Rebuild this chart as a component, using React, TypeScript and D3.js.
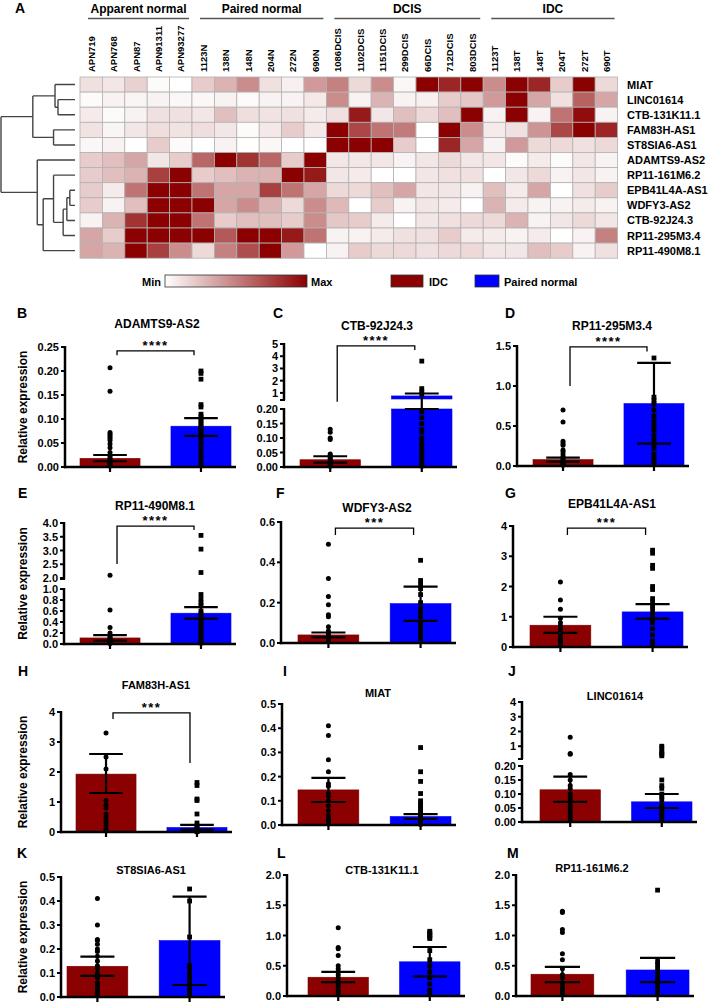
import React from 'react';
import * as d3 from 'd3';

const FONT = "'Liberation Sans', Arial, Helvetica, sans-serif";
const IDC_COLOR = '#8b0000';
const NORMAL_COLOR = '#0000ff';

// ---------------- Heatmap data ----------------
const sampleColumns = ['APN719','APN768','APN87','APN91311','APN93277','1123N','138N','148N','204N','272N','690N','1086DCIS','1102DCIS','1151DCIS','299DCIS','66DCIS','712DCIS','803DCIS','1123T','138T','148T','204T','272T','690T'];
const sampleGroups = [
  { name: 'Apparent normal', first: 0, last: 4 },
  { name: 'Paired normal', first: 5, last: 10 },
  { name: 'DCIS', first: 11, last: 17 },
  { name: 'IDC', first: 18, last: 23 },
];
const geneRows = ['MIAT','LINC01614','CTB-131K11.1','FAM83H-AS1','ST8SIA6-AS1','ADAMTS9-AS2','RP11-161M6.2','EPB41L4A-AS1','WDFY3-AS2','CTB-92J24.3','RP11-295M3.4','RP11-490M8.1'];

const heatMIAT = [0.12,0.1,0.18,0.02,0.0, 0.2,0.3,0.45,0.12,0.06,0.4, 0.5,0.15,0.45,0.03,1.0,0.85,1.0, 0.45,1.0,0.85,0.2,1.0,0.15];
const heatLINC01614 = [0.02,0.05,0.04,0.05,0.03, 0.03,0.05,0.02,0.05,0.05,0.09, 0.45,0.05,0.3,0.05,0.06,0.2,0.22, 0.4,1.0,0.35,0.12,0.62,0.35];
const heatCTB131K11 = [0.08,0.02,0.05,0.12,0.12, 0.1,0.25,0.13,0.11,0.12,0.08, 0.12,0.9,0.1,0.25,0.15,0.25,1.0, 0.05,1.0,0.05,0.55,0.95,0.05];
const heatFAM83H = [0.11,0.04,0.1,0.13,0.11, 0.13,0.1,0.02,0.09,0.2,0.09, 1.0,0.72,0.55,0.52,0.0,1.0,0.45, 0.08,0.12,0.42,0.72,1.0,0.85];
const heatST8SIA6 = [0.03,0.05,0.0,0.2,0.02, 0.0,0.05,0.0,0.03,0.0,0.0, 1.0,1.0,1.0,0.2,0.0,0.85,0.35, 0.05,0.4,0.15,0.15,0.12,0.15];
const heatADAMTS9 = [0.2,0.25,0.35,0.1,0.2, 0.6,1.0,0.8,0.6,0.2,1.0, 0.1,0.1,0.1,0.05,0.1,0.15,0.1, 0.1,0.02,0.08,0.02,0.1,0.05];
const heatRP11_161M6 = [0.2,0.25,0.3,0.75,1.0, 0.2,0.25,0.3,0.3,1.0,0.9, 0.1,0.08,0.0,0.0,0.1,0.12,0.12, 0.0,0.1,0.15,0.05,0.1,0.05];
const heatEPB41L4A = [0.2,0.08,0.55,1.0,1.0, 0.55,0.35,0.35,0.75,0.55,0.35, 0.15,0.15,0.25,0.35,0.1,0.1,0.05, 0.25,0.08,0.35,0.0,0.12,0.2];
const heatWDFY3 = [0.2,0.05,0.25,1.0,1.0, 1.0,0.35,0.45,0.3,0.15,0.45, 0.28,0.0,0.2,0.05,0.1,0.08,0.0, 0.3,0.08,0.05,0.05,0.08,0.05];
const heatCTB92J24 = [0.05,0.3,0.8,1.0,1.0, 0.55,0.2,0.25,0.25,0.2,0.45, 0.22,0.2,0.08,0.0,0.1,0.12,0.15, 0.15,0.3,0.05,0.1,0.15,0.1];
const heatRP11_295M3 = [0.35,0.2,1.0,1.0,1.0, 1.0,0.65,1.0,1.0,0.9,0.55, 0.05,0.05,0.08,0.12,0.12,0.2,0.08, 0.08,0.05,0.08,0.0,0.05,0.5];
const heatRP11_490M8 = [0.35,0.3,1.0,0.75,0.45, 0.15,0.5,0.7,1.0,0.4,0.0, 0.05,0.2,0.15,0.15,0.12,0.15,0.15, 0.1,0.1,0.25,0.2,0.05,0.12];
const heatMatrix = [heatMIAT, heatLINC01614, heatCTB131K11, heatFAM83H, heatST8SIA6, heatADAMTS9, heatRP11_161M6, heatEPB41L4A, heatWDFY3, heatCTB92J24, heatRP11_295M3, heatRP11_490M8];

// dendrogram (merge heights 0..1)
const dendroTree: any = { h: 1.0, children: [
  { h: 0.57, children: [
    { h: 0.27, children: [ { leaf: 'MIAT' }, { h: 0.23, children: [ { leaf: 'LINC01614' }, { leaf: 'CTB-131K11.1' } ] } ] },
    { h: 0.29, children: [ { leaf: 'FAM83H-AS1' }, { leaf: 'ST8SIA6-AS1' } ] },
  ] },
  { h: 0.51, children: [
    { leaf: 'ADAMTS9-AS2' },
    { h: 0.43, children: [
      { h: 0.29, children: [
        { leaf: 'RP11-161M6.2' },
        { h: 0.16, children: [
          { h: 0.11, children: [ { h: 0.07, children: [ { leaf: 'EPB41L4A-AS1' }, { leaf: 'WDFY3-AS2' } ] }, { leaf: 'CTB-92J24.3' } ] },
          { leaf: 'RP11-295M3.4' },
        ] },
      ] },
      { leaf: 'RP11-490M8.1' },
    ] },
  ] },
] };

// ---------------- Bar panel data ----------------
const barGroups = ['IDC', 'Paired normal'];

const B_idc = [0.207,0.158,0.072,0.068,0.064,0.06,0.055,0.048,0.04,0.03,0.022,0.018,0.014,0.01,0.008,0.006,0.004,0.002];
const B_normal = [0.2,0.195,0.183,0.13,0.125,0.11,0.105,0.1,0.095,0.09,0.085,0.08,0.075,0.07,0.065,0.06,0.05,0.04,0.03,0.02,0.01,0.004];
const B_stats = [[0.018,0.012,0.025],[0.085,0.065,0.102]];

const C_idc = [0.13,0.12,0.1,0.095,0.045,0.04,0.035,0.03,0.025,0.02,0.015,0.01,0.006,0.003];
const C_normal = [3.6,1.35,1.1,0.9,0.19,0.17,0.15,0.13,0.12,0.1,0.09,0.08,0.07,0.06,0.05,0.04,0.03,0.02,0.01,0.004];
const C_stats = [[0.025,0.015,0.037],[0.75,0.2,0.95]];

const D_idc = [0.7,0.55,0.31,0.28,0.26,0.2,0.18,0.15,0.12,0.1,0.08,0.06,0.05,0.04,0.03,0.02,0.01];
const D_normal = [1.35,0.86,0.82,0.78,0.7,0.62,0.55,0.5,0.45,0.38,0.32,0.28,0.22,0.15,0.1,0.05,0.02];
const D_stats = [[0.08,0.055,0.105],[0.78,0.28,1.29]];

const E_idc = [2.1,0.62,0.3,0.2,0.15,0.12,0.1,0.08,0.06,0.05,0.04,0.03,0.02,0.01];
const E_normal = [3.55,3.05,2.2,0.9,0.82,0.75,0.7,0.6,0.55,0.5,0.45,0.4,0.35,0.3,0.25,0.2,0.15,0.1,0.05,0.02];
const E_stats = [[0.11,0.06,0.16],[0.56,0.46,0.67]];

const F_idc = [0.49,0.32,0.23,0.19,0.14,0.13,0.08,0.06,0.05,0.04,0.03,0.02,0.01];
const F_normal = [0.41,0.31,0.29,0.27,0.24,0.2,0.17,0.15,0.13,0.1,0.08,0.06,0.04,0.02];
const F_stats = [[0.04,0.028,0.052],[0.195,0.11,0.28]];

const G_idc = [2.15,1.55,1.25,0.95,0.8,0.7,0.6,0.5,0.4,0.3,0.25,0.2,0.15,0.1,0.05];
const G_normal = [3.2,3.1,2.7,2.6,2.0,1.9,1.6,1.5,1.35,1.25,1.1,1.0,0.9,0.8,0.6,0.4,0.2,0.1];
const G_stats = [[0.72,0.47,1.0],[1.16,0.94,1.42]];

const H_idc = [3.3,2.5,2.1,1.05,0.9,0.8,0.6,0.5,0.4,0.3,0.2,0.1,0.05];
const H_normal = [1.65,1.55,1.1,1.05,0.6,0.3,0.2,0.15,0.1,0.05,0.03,0.01];
const H_stats = [[1.93,1.3,2.6],[0.15,0.08,0.24]];

const I_idc = [0.41,0.37,0.27,0.22,0.17,0.16,0.13,0.12,0.1,0.08,0.06,0.04,0.03,0.02,0.01];
const I_normal = [0.32,0.22,0.18,0.13,0.1,0.09,0.08,0.07,0.06,0.05,0.04,0.03,0.02,0.01,0.004];
const I_stats = [[0.145,0.095,0.195],[0.035,0.025,0.045]];

const J_idc = [1.6,0.5,0.45,0.17,0.15,0.13,0.12,0.1,0.09,0.08,0.06,0.05,0.04,0.03,0.02,0.01];
const J_normal = [1.0,0.9,0.65,0.55,0.45,0.35,0.15,0.13,0.12,0.1,0.09,0.08,0.06,0.05,0.04,0.03,0.02,0.01];
const J_stats = [[0.115,0.072,0.162],[0.072,0.05,0.1]];

const K_idc = [0.41,0.3,0.24,0.235,0.22,0.2,0.19,0.17,0.15,0.13,0.12,0.1,0.09,0.08,0.06,0.05,0.04,0.03,0.02,0.01];
const K_normal = [0.45,0.4,0.25,0.13,0.12,0.1,0.08,0.06,0.05,0.03,0.02,0.01];
const K_stats = [[0.128,0.088,0.168],[0.235,0.05,0.418]];

const L_idc = [1.13,0.8,0.78,0.67,0.5,0.45,0.4,0.35,0.3,0.25,0.2,0.15,0.1,0.05];
const L_normal = [1.07,1.05,1.02,1.0,0.97,0.95,0.75,0.6,0.5,0.4,0.3,0.2,0.1,0.05];
const L_stats = [[0.31,0.23,0.4],[0.565,0.325,0.81]];

const M_idc = [1.4,1.38,1.1,1.05,0.7,0.6,0.45,0.35,0.3,0.2,0.15,0.1,0.05];
const M_normal = [1.75,0.57,0.52,0.45,0.4,0.35,0.3,0.25,0.2,0.15,0.1,0.05];
const M_stats = [[0.36,0.23,0.48],[0.43,0.23,0.63]];

// axis segments: domain + ticks (values), range (pixel layout)
type Seg = { domain: [number, number]; range: [number, number]; ticks: number[]; fmt: string };

const panels: any[] = [
  { letter: 'B', title: 'ADAMTS9-AS2', idc: B_idc, normal: B_normal, stats: B_stats, stars: '****',
    bracket: { level: 0.242, left: 0.233, right: 0.233 },
    segs: [{ domain: [0, 0.25], range: [467, 347], ticks: [0, 0.05, 0.1, 0.15, 0.2, 0.25], fmt: '.2f' }],
    L: { lx: 17, ly: 318, tx: 157, ty: 328, ts: 12, ax: 65, b0: 80, b1: 231, ylab: true } },
  { letter: 'C', title: 'CTB-92J24.3', idc: C_idc, normal: C_normal, stats: C_stats, stars: '****',
    bracket: { level: 4.85, left: 0.42, right: 4.5 },
    segs: [{ domain: [0, 0.2], range: [467, 409], ticks: [0, 0.05, 0.1, 0.15, 0.2], fmt: '.2f' },
           { domain: [0.5, 5], range: [399, 344], ticks: [1, 2, 3, 4, 5], fmt: 'd' }],
    L: { lx: 273, ly: 318, tx: 377, ty: 330, ts: 12, ax: 284, b0: 300, b1: 452, ylab: false } },
  { letter: 'D', title: 'RP11-295M3.4', idc: D_idc, normal: D_normal, stats: D_stats, stars: '****',
    bracket: { level: 1.49, left: 1.0, right: 1.43 },
    segs: [{ domain: [0, 1.5], range: [466, 346], ticks: [0, 0.5, 1, 1.5], fmt: '.1f' }],
    L: { lx: 505, ly: 318, tx: 612, ty: 330, ts: 12, ax: 517, b0: 533, b1: 684, ylab: false } },
  { letter: 'E', title: 'RP11-490M8.1', idc: E_idc, normal: E_normal, stats: E_stats, stars: '****',
    bracket: { level: 3.89, left: 2.51, right: 3.75 },
    segs: [{ domain: [0, 1], range: [644, 589], ticks: [0, 0.2, 0.4, 0.6, 0.8, 1.0], fmt: '.1f' },
           { domain: [2, 4], range: [578, 523], ticks: [2, 2.5, 3, 3.5, 4], fmt: '.1f' }],
    L: { lx: 18, ly: 498, tx: 155, ty: 510, ts: 12, ax: 64, b0: 80, b1: 231, ylab: true } },
  { letter: 'F', title: 'WDFY3-AS2', idc: F_idc, normal: F_normal, stats: F_stats, stars: '***',
    bracket: { level: 0.57, left: 0.535, right: 0.535 },
    segs: [{ domain: [0, 0.6], range: [643, 522], ticks: [0, 0.2, 0.4, 0.6], fmt: '.1f' }],
    L: { lx: 276, ly: 498, tx: 377, ty: 512, ts: 12, ax: 281, b0: 298, b1: 451, ylab: false } },
  { letter: 'G', title: 'EPB41L4A-AS1', idc: G_idc, normal: G_normal, stats: G_stats, stars: '***',
    bracket: { level: 3.93, left: 3.7, right: 3.7 },
    segs: [{ domain: [0, 4], range: [647, 526], ticks: [0, 1, 2, 3, 4], fmt: 'd' }],
    L: { lx: 505, ly: 498, tx: 612, ty: 508, ts: 12, ax: 513, b0: 530, b1: 683, ylab: false } },
  { letter: 'H', title: 'FAM83H-AS1', idc: H_idc, normal: H_normal, stats: H_stats, stars: '***',
    bracket: { level: 3.97, left: 3.77, right: 2.3 },
    segs: [{ domain: [0, 4], range: [832, 712], ticks: [0, 1, 2, 3, 4], fmt: 'd' }],
    L: { lx: 18, ly: 676, tx: 156, ty: 689, ts: 11, ax: 61, b0: 76, b1: 227, ylab: true } },
  { letter: 'I', title: 'MIAT', idc: I_idc, normal: I_normal, stats: I_stats, stars: null, bracket: null,
    segs: [{ domain: [0, 0.5], range: [825, 704], ticks: [0, 0.1, 0.2, 0.3, 0.4, 0.5], fmt: '.1f' }],
    L: { lx: 283, ly: 676, tx: 378, ty: 697, ts: 11, ax: 282, b0: 298, b1: 451, ylab: false } },
  { letter: 'J', title: 'LINC01614', idc: J_idc, normal: J_normal, stats: J_stats, stars: null, bracket: null,
    segs: [{ domain: [0, 0.2], range: [822, 766], ticks: [0, 0.05, 0.1, 0.15, 0.2], fmt: '.2f' },
           { domain: [0.2, 4], range: [758, 702], ticks: [1, 2, 3, 4], fmt: 'd' }],
    L: { lx: 508, ly: 676, tx: 615, ty: 700, ts: 11, ax: 522, b0: 540, b1: 692, ylab: false } },
  { letter: 'K', title: 'ST8SIA6-AS1', idc: K_idc, normal: K_normal, stats: K_stats, stars: null, bracket: null,
    segs: [{ domain: [0, 0.5], range: [997, 877], ticks: [0, 0.1, 0.2, 0.3, 0.4, 0.5], fmt: '.1f' }],
    L: { lx: 17, ly: 858, tx: 151, ty: 874, ts: 11, ax: 61, b0: 67, b1: 220, ylab: true } },
  { letter: 'L', title: 'CTB-131K11.1', idc: L_idc, normal: L_normal, stats: L_stats, stars: null, bracket: null,
    segs: [{ domain: [0, 2], range: [996, 875], ticks: [0, 0.5, 1, 1.5, 2], fmt: '.1f' }],
    L: { lx: 277, ly: 858, tx: 382, ty: 874, ts: 11, ax: 287, b0: 308, b1: 460, ylab: false } },
  { letter: 'M', title: 'RP11-161M6.2', idc: M_idc, normal: M_normal, stats: M_stats, stars: null, bracket: null,
    segs: [{ domain: [0, 2], range: [996, 875], ticks: [0, 0.5, 1, 1.5, 2], fmt: '.1f' }],
    L: { lx: 507, ly: 858, tx: 592, ty: 872, ts: 11, ax: 516, b0: 531, b1: 689, ylab: false } },
];

function makeY(segs: Seg[]) {
  const sc = segs.map(s => d3.scaleLinear().domain(s.domain).range(s.range));
  return (v: number) => {
    if (segs.length === 1) return sc[0](v);
    const [a, b] = segs;
    if (v <= a.domain[1]) return sc[0](v);
    if (v >= b.domain[0]) return sc[1](v);
    const t = (v - a.domain[1]) / (b.domain[0] - a.domain[1]);
    return a.range[1] + t * (b.range[0] - a.range[1]);
  };
}

function BarPanel({ p }: { p: any }) {
  const segs: Seg[] = p.segs;
  const y = makeY(segs);
  const segScales = segs.map(s => d3.scaleLinear().domain(s.domain).range(s.range));
  const x = d3.scaleBand().domain(barGroups).range([p.L.b0, p.L.b1]).paddingInner(0.34).paddingOuter(0);
  const bw = x.bandwidth();
  const base = segs[0].range[0];
  const ax = p.L.ax;
  const xEnd = p.L.b1 + 5;
  const groupDefs = [
    { key: 'IDC', vals: p.idc, st: p.stats[0], color: IDC_COLOR, shape: 'circle' },
    { key: 'Paired normal', vals: p.normal, st: p.stats[1], color: NORMAL_COLOR, shape: 'square' },
  ];
  const capW = bw * 0.56;
  const yTop = segs[segs.length - 1].range[1];
  const yBot = segs[0].range[0];
  return (
    <g>
      <text x={p.L.lx} y={p.L.ly} fontSize={14} fontWeight="bold" fontFamily={FONT}>{p.letter}</text>
      <text x={p.L.tx} y={p.L.ty} fontSize={p.L.ts} fontWeight="bold" fontFamily={FONT} textAnchor="middle">{p.title}</text>
      {p.L.ylab && (
        <text transform={`translate(${27},${(yTop + yBot) / 2}) rotate(-90)`} fontSize={12} fontWeight="bold"
          fontFamily={FONT} textAnchor="middle">Relative expression</text>
      )}
      {/* bars */}
      {groupDefs.map(g => (
        <g key={g.key}>
          {segs.map((s, i) => {
            if (g.st[0] <= s.domain[0] && i > 0) return null;
            const top = segScales[i](Math.min(g.st[0], s.domain[1]));
            const bottom = s.range[0];
            return <rect key={i} x={x(g.key)} y={top} width={bw} height={Math.max(0, bottom - top)}
              fill={g.color} stroke={d3.color(g.color)!.darker(0.3).toString()} strokeWidth={0.6} />;
          })}
        </g>
      ))}
      {/* points */}
      {groupDefs.map(g => {
        const cx = (x(g.key) as number) + bw / 2;
        return (
          <g key={g.key + 'pts'}>
            {g.vals.map((v: number, i: number) => g.shape === 'circle'
              ? <circle key={i} cx={cx} cy={y(v)} r={2.5} fill="#000" />
              : <rect key={i} x={cx - 2.4} y={y(v) - 2.4} width={4.8} height={4.8} fill="#000" />)}
          </g>
        );
      })}
      {/* error bars */}
      {groupDefs.map(g => {
        const cx = (x(g.key) as number) + bw / 2;
        return (
          <g key={g.key + 'err'} stroke="#000" strokeWidth={2.2}>
            <line x1={cx} x2={cx} y1={y(g.st[1])} y2={y(g.st[2])} />
            <line x1={cx - capW / 2} x2={cx + capW / 2} y1={y(g.st[1])} y2={y(g.st[1])} />
            <line x1={cx - capW / 2} x2={cx + capW / 2} y1={y(g.st[2])} y2={y(g.st[2])} />
            <line x1={cx} x2={cx} y1={base} y2={base + 5} />
          </g>
        );
      })}
      {/* y axis segments */}
      {segs.map((s, i) => (
        <g key={'ax' + i}>
          <line x1={ax} x2={ax} y1={s.range[0] + (i === 0 ? 1.2 : 1)} y2={s.range[1] - 1} stroke="#000" strokeWidth={2.5} />
          {i > 0 && <line x1={ax - 4} x2={ax + 1} y1={s.range[0] + 1} y2={s.range[0] + 1} stroke="#000" strokeWidth={2} />}
          {s.ticks.map(t => (
            <g key={t}>
              <line x1={ax - 4} x2={ax} y1={segScales[i](t)} y2={segScales[i](t)} stroke="#000" strokeWidth={2} />
              <text x={ax - 6} y={segScales[i](t) + 4} fontSize={11} fontWeight="bold" fontFamily={FONT}
                textAnchor="end">{d3.format(s.fmt)(t)}</text>
            </g>
          ))}
        </g>
      ))}
      {/* x axis */}
      <line x1={ax - 1.2} x2={xEnd} y1={base} y2={base} stroke="#000" strokeWidth={2.5} />
      {/* significance bracket */}
      {p.bracket && (() => {
        const xl = (x('IDC') as number) + bw / 2 + 7;
        const xr = (x('Paired normal') as number) + bw / 2 - 7;
        const yl = y(p.bracket.level);
        return (
          <g>
            <path d={`M${xl},${y(p.bracket.left)}V${yl}H${xr}V${y(p.bracket.right)}`} fill="none" stroke="#000" strokeWidth={1.3} />
            <text x={(xl + xr) / 2} y={yl - 1} fontSize={13} fontWeight="bold" fontFamily={FONT}
              textAnchor="middle" letterSpacing={1.5}>{p.stars}</text>
          </g>
        );
      })()}
    </g>
  );
}

function Heatmap() {
  const x = d3.scaleBand().domain(sampleColumns).range([80, 617.6]);
  const y = d3.scaleBand().domain(geneRows).range([77, 258.2]);
  const color = d3.scaleSequential(d3.interpolateRgb('#ffffff', '#8b0000')).domain([0, 1]);
  const root = d3.hierarchy(dendroTree);
  const dx = d3.scaleLinear().domain([0, 1]).range([75, 1]);
  const posY = new Map<any, number>();
  root.eachAfter((n: any) => {
    if (!n.children) posY.set(n, (y(n.data.leaf) as number) + y.bandwidth() / 2);
    else posY.set(n, d3.mean(n.children.map((c: any) => posY.get(c))) as number);
  });
  const hOf = (n: any) => (n.children ? n.data.h : 0);
  const links: string[] = [];
  root.each((n: any) => {
    if (!n.children) return;
    const xn = dx(hOf(n));
    const ys = n.children.map((c: any) => posY.get(c));
    links.push(`M${xn},${d3.min(ys)}V${d3.max(ys)}`);
    n.children.forEach((c: any) => links.push(`M${xn},${posY.get(c)}H${dx(hOf(c))}`));
  });
  return (
    <g>
      <text x={15} y={13} fontSize={14} fontWeight="bold" fontFamily={FONT}>A</text>
      {sampleGroups.map(g => {
        const x0 = (x(sampleColumns[g.first]) as number) + 8;
        const x1 = (x(sampleColumns[g.last]) as number) + x.bandwidth() - 3;
        return (
          <g key={g.name}>
            <text x={(x0 + x1) / 2} y={13} fontSize={12} fontWeight="bold" fontFamily={FONT} textAnchor="middle">{g.name}</text>
            <line x1={x0} x2={x1} y1={18.5} y2={18.5} stroke="#555" strokeWidth={1.4} />
          </g>
        );
      })}
      {sampleColumns.map(c => (
        <text key={c} transform={`translate(${(x(c) as number) + x.bandwidth() / 2 + 3.5},72) rotate(-90)`}
          fontSize={9.5} fontWeight="bold" fontFamily={FONT}>{c}</text>
      ))}
      {geneRows.map((r, i) => (
        <g key={r}>
          {sampleColumns.map((c, j) => (
            <rect key={c} x={x(c)} y={y(r)} width={x.bandwidth()} height={y.bandwidth()}
              fill={color(heatMatrix[i][j])} stroke="#b2b2b2" strokeWidth={0.8} />
          ))}
          <text x={627} y={(y(r) as number) + y.bandwidth() / 2 + 4} fontSize={11} fontWeight="bold" fontFamily={FONT}>{r}</text>
        </g>
      ))}
      <path d={links.join('')} fill="none" stroke="#444" strokeWidth={1.4} />
      {/* legend */}
      <defs>
        <linearGradient id="hmgrad" x1="0" x2="1" y1="0" y2="0">
          <stop offset="0%" stopColor={color(0)} />
          <stop offset="50%" stopColor={color(0.5)} />
          <stop offset="100%" stopColor={color(1)} />
        </linearGradient>
      </defs>
      <text x={161} y={286} fontSize={11} fontWeight="bold" fontFamily={FONT} textAnchor="end">Min</text>
      <rect x={165} y={275} width={142} height={12} fill="url(#hmgrad)" stroke="#333" strokeWidth={0.8} />
      <text x={311} y={286} fontSize={11} fontWeight="bold" fontFamily={FONT}>Max</text>
      <rect x={391} y={275} width={32} height={12} fill={IDC_COLOR} stroke="#333" strokeWidth={0.8} />
      <text x={429} y={286} fontSize={11} fontWeight="bold" fontFamily={FONT}>IDC</text>
      <rect x={475} y={275} width={24} height={12} fill={NORMAL_COLOR} stroke="#333" strokeWidth={0.8} />
      <text x={504} y={286} fontSize={11} fontWeight="bold" fontFamily={FONT}>Paired normal</text>
    </g>
  );
}

export default function App() {
  return (
    <div style={{ position: 'absolute', left: 0, top: 0, background: '#fff' }}>
      <svg width={709} height={1003} viewBox="0 0 709 1003" style={{ display: 'block', background: '#fff' }}>
        <Heatmap />
        {panels.map(p => <BarPanel key={p.letter} p={p} />)}
      </svg>
    </div>
  );
}
